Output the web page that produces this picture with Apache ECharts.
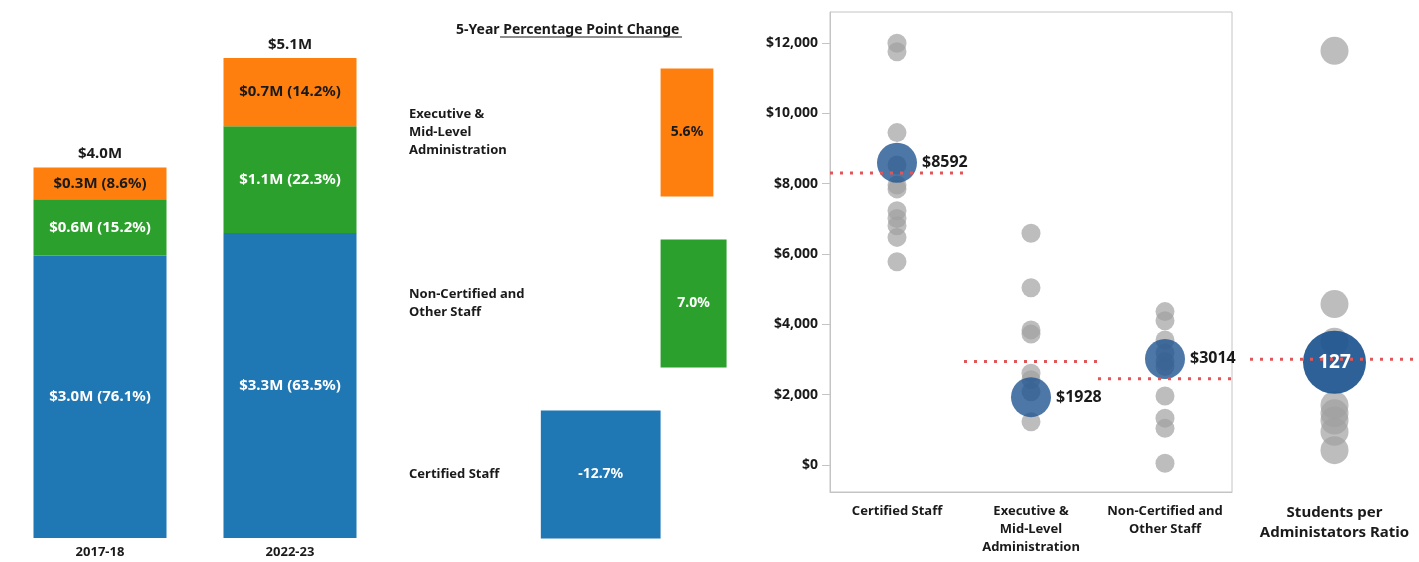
<!DOCTYPE html>
<html>
<head>
<meta charset="utf-8">
<title>Staff spending per student</title>
<script src="https://cdn.jsdelivr.net/npm/echarts@6/dist/echarts.min.js"></script>
<style>
html, body { margin: 0; padding: 0; background: #fff; }
#chart { width: 1419px; height: 562px; }
</style>
</head>
<body>
<div id="chart"></div>
<script>
// stacked spending bars ($M) and share of total (%)
const years = ['2017-18', '2022-23']
const certifiedSpend = [3.02, 3.26]
const nonCertSpend = [0.60, 1.14]
const execSpend = [0.34, 0.73]
const certifiedPct = [76.1, 63.5]
const nonCertPct = [15.2, 22.3]
const execPct = [8.6, 14.2]

// 5-year percentage point change, bottom to top
const changeCats = ['Certified Staff', 'Non-Certified and\nOther Staff', 'Executive &\nMid-Level\nAdministration']
const ppChange = [-12.7, 7.0, 5.6]

// spending per student, district vs peers
const staffCats = ['Certified Staff', 'Executive &\nMid-Level\nAdministration', 'Non-Certified and\nOther Staff']
const certifiedPeers = [11990, 11750, 9450, 8530, 7960, 7850, 7230, 7010, 6800, 6470, 5780]
const execPeers = [6590, 5040, 3840, 3720, 2610, 2420, 2080, 1230]
const nonCertPeers = [4360, 4100, 3550, 3190, 2940, 2800, 1960, 1330, 1040, 50]
const districtPerStudent = [8592, 1928, 3014]
const peerAverage = [8300, 2940, 2450]
const yTicks = [0, 2000, 4000, 6000, 8000, 10000, 12000]

// students per administrator
const ratioCats = ['Students per\nAdministators Ratio']
const ratioPeers = [432, 184, 147, 85, 77, 70, 59, 41]
const ratioDistrict = 127
const ratioAverage = 130

const FONT = 'Noto Sans'
const INK = '#1a1a1a'
const BLUE = '#1f77b4'
const GREEN = '#2ca02c'
const ORANGE = '#ff7f0e'
const RED = '#e15759'
const FRAME = '#c4c4c4'
const PEER = 'rgba(161,161,161,0.7)'

let chart = echarts.init(document.getElementById('chart'))

let totals = years.map((y, i) => certifiedSpend[i] + nonCertSpend[i] + execSpend[i])

function bold (size, extra) {
  return Object.assign({ color: INK, fontFamily: FONT, fontWeight: 'bold', fontSize: size }, extra || {})
}

function stackSeries (name, values, pcts, color, textColor) {
  return {
    name: name,
    type: 'bar',
    stack: 'spend',
    xAxisIndex: 0,
    yAxisIndex: 0,
    barWidth: 133,
    itemStyle: { color: color },
    label: bold(15, {
      show: true,
      position: 'inside',
      color: textColor,
      formatter: p => '$' + values[p.dataIndex].toFixed(1) + 'M (' + pcts[p.dataIndex].toFixed(1) + '%)'
    }),
    data: values
  }
}

// scatter defaults to opacity 0.8, which also fades labels, so alpha goes in the colour
function peerDots (values, idx) {
  return {
    type: 'scatter',
    xAxisIndex: 2,
    yAxisIndex: 2,
    symbolSize: 19,
    itemStyle: { color: PEER, opacity: 1 },
    silent: true,
    z: 2,
    data: values.map(v => [idx, v])
  }
}

let series = [
  stackSeries('Certified Staff', certifiedSpend, certifiedPct, BLUE, '#fff'),
  stackSeries('Non-Certified and Other Staff', nonCertSpend, nonCertPct, GREEN, '#fff'),
  stackSeries('Executive & Mid-Level Administration', execSpend, execPct, ORANGE, INK),
  {
    // total label above each stack
    type: 'scatter',
    xAxisIndex: 0,
    yAxisIndex: 0,
    symbolSize: 0,
    itemStyle: { opacity: 1 },
    label: bold(15, {
      show: true,
      position: 'top',
      distance: 6,
      formatter: p => '$' + p.value[1].toFixed(1) + 'M'
    }),
    data: totals.map((t, i) => [i, t])
  },
  {
    type: 'bar',
    xAxisIndex: 1,
    yAxisIndex: 1,
    barWidth: 128,
    label: bold(14, {
      show: true,
      position: 'inside',
      formatter: p => p.value.toFixed(1) + '%'
    }),
    data: ppChange.map((v, i) => ({
      value: v,
      itemStyle: { color: [BLUE, GREEN, ORANGE][i] },
      label: { color: i === 2 ? INK : '#fff' }
    }))
  },
  peerDots(certifiedPeers, 0),
  peerDots(execPeers, 1),
  peerDots(nonCertPeers, 2),
  {
    type: 'scatter',
    xAxisIndex: 2,
    yAxisIndex: 2,
    symbolSize: 40,
    z: 3,
    itemStyle: { color: 'rgba(31,85,145,0.8)', opacity: 1 },
    label: bold(16, {
      show: true,
      position: 'right',
      distance: 5,
      formatter: p => '$' + p.value[1]
    }),
    data: districtPerStudent.map((v, i) => [i, v])
  },
  {
    type: 'scatter',
    xAxisIndex: 4,
    yAxisIndex: 3,
    symbolSize: 28,
    itemStyle: { color: PEER, opacity: 1 },
    silent: true,
    z: 2,
    data: ratioPeers.map(v => [0, v])
  },
  {
    type: 'scatter',
    xAxisIndex: 4,
    yAxisIndex: 3,
    symbolSize: 63,
    z: 3,
    itemStyle: { color: 'rgba(31,85,145,0.93)', opacity: 1 },
    label: bold(19, {
      show: true,
      position: 'inside',
      color: '#fff',
      formatter: p => String(p.value[1])
    }),
    data: [[0, ratioDistrict]]
  }
]

// dotted peer-average lines, one per category band
peerAverage.forEach((v, i) => {
  series.push({
    type: 'line',
    xAxisIndex: 3,
    yAxisIndex: 2,
    symbol: 'none',
    silent: true,
    z: 4,
    lineStyle: { color: RED, width: 3, type: [3, 7] },
    data: [[i - 0.5, v], [i + 0.5, v]]
  })
})
series.push({
  type: 'line',
  xAxisIndex: 5,
  yAxisIndex: 3,
  symbol: 'none',
  silent: true,
  z: 4,
  lineStyle: { color: RED, width: 3, type: [3, 7] },
  data: [[-0.5, ratioAverage], [0.5, ratioAverage]]
})

let option = {
  animation: false,
  textStyle: { fontFamily: FONT },
  title: {
    text: '5-Year Percentage Point Change',
    left: 451,
    top: 18,
    textStyle: bold(14)
  },
  graphic: [
    {
      // underline from "Percentage" onward, as in the original header
      type: 'line',
      shape: { x1: 500, y1: 37, x2: 682, y2: 37 },
      style: { stroke: INK, lineWidth: 1 }
    }
  ],
  grid: [
    { left: 5, top: 58, width: 380, height: 480 },
    { left: 538, top: 47, width: 198, height: 513 },
    { left: 830, top: 12, width: 402, height: 480, show: true, borderColor: FRAME, borderWidth: 1 },
    { left: 1250, top: 12, width: 178, height: 480 }
  ],
  xAxis: [
    {
      gridIndex: 0,
      type: 'category',
      data: years,
      axisLine: { show: false },
      axisTick: { show: false },
      axisLabel: bold(13, { margin: 8 })
    },
    { gridIndex: 1, type: 'value', min: -13, max: 8, show: false },
    {
      gridIndex: 2,
      type: 'category',
      data: staffCats,
      axisLine: { onZero: false, lineStyle: { color: FRAME } },
      axisTick: { length: 8, lineStyle: { color: FRAME } },
      axisLabel: bold(13, { margin: 10, lineHeight: 18, interval: 0 })
    },
    { gridIndex: 2, type: 'value', min: -0.5, max: 2.5, show: false },
    {
      gridIndex: 3,
      type: 'category',
      data: ratioCats,
      axisLine: { show: false, onZero: false },
      axisTick: { length: 8, lineStyle: { color: FRAME } },
      axisLabel: bold(15, { margin: 11, lineHeight: 20, interval: 0 })
    },
    { gridIndex: 3, type: 'value', min: -0.5, max: 0.5, show: false }
  ],
  yAxis: [
    { gridIndex: 0, type: 'value', min: 0, max: totals[1], show: false },
    {
      gridIndex: 1,
      type: 'category',
      data: changeCats,
      axisLine: { show: false },
      axisTick: { show: false },
      axisLabel: bold(13, { align: 'left', margin: 129, lineHeight: 18 })
    },
    {
      gridIndex: 2,
      type: 'value',
      min: -770,
      max: 12880,
      splitLine: { show: false },
      axisLine: { show: true, onZero: false, lineStyle: { color: FRAME } },
      axisTick: { show: true, length: 8, customValues: yTicks, lineStyle: { color: FRAME } },
      axisLabel: bold(14, {
        margin: 12,
        customValues: yTicks,
        formatter: v => '$' + v.toLocaleString('en-US')
      })
    },
    { gridIndex: 3, type: 'value', min: 0, max: 470, show: false }
  ],
  series: series
}

chart.setOption(option)
</script>
</body>
</html>
